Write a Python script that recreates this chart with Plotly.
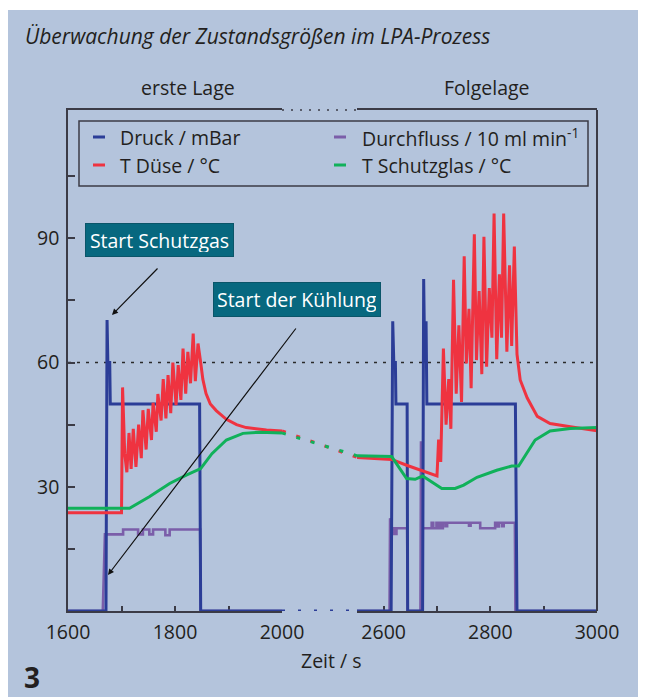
import plotly.graph_objects as go

# ---------------- data ----------------
# Druck / mBar
druck_t = [1600, 1671, 1673, 1674.5, 1678, 1679, 1846, 1848, 2000,
           2550, 2614, 2617, 2619, 2622, 2623, 2644, 2645, 2673, 2675, 2677, 2679.5, 2681, 2847, 2850, 3000]
druck_v = [0, 0, 70.3, 60, 60, 50, 50, 0, 0,
           0, 0, 70, 60, 60, 50, 50, 0, 0, 80.2, 60, 70, 50, 50, 0, 0]

# Durchfluss / 10 ml min-1
flow_t = [1600, 1665, 1669, 1703, 1703, 1731, 1731, 1740, 1740, 1752, 1752, 1759, 1759, 1782, 1782, 1790, 1790, 1847, 1848, 2000,
          2550, 2611, 2612, 2614, 2620, 2620, 2624, 2624, 2644, 2645, 2669, 2670, 2672, 2690, 2690, 2693, 2693, 2699, 2699,
          2702, 2702, 2705, 2705, 2708, 2708, 2711, 2711, 2716, 2716, 2719, 2719, 2760, 2760, 2763, 2763, 2781, 2781,
          2809, 2809, 2813, 2813, 2816, 2816, 2822, 2822, 2825, 2825, 2846, 2847, 3000]
flow_v = [0, 0, 18.5, 18.5, 19.7, 19.7, 18.5, 18.5, 19.7, 19.7, 18.5, 18.5, 19.7, 19.7, 18.3, 18.3, 19.7, 19.7, 0, 0,
          0, 0, 22.4, 20, 20, 18.6, 18.6, 20, 20, 0, 0, 41, 20, 20, 21.3, 21.3, 20, 20, 21.3,
          21.3, 20, 20, 21.3, 21.3, 20, 20, 21.3, 21.3, 20.5, 20.5, 21.3, 21.3, 20.6, 20.6, 21.3, 21.3, 20,
          20, 21.3, 21.3, 20.4, 20.4, 21.3, 21.3, 20.5, 20.5, 21.3, 21.3, 0, 0]

# T Duese / degC
duese_t = [1600, 1700, 1702, 1706, 1710, 1714, 1718, 1722, 1727, 1732, 1737, 1740, 1746, 1750, 1756, 1759, 1765, 1768,
           1774, 1778, 1783, 1787, 1792, 1796, 1802, 1806, 1811, 1815, 1820, 1824, 1829, 1834, 1838, 1843, 1848, 1852,
           1858, 1866, 1877, 1896, 1915, 1933, 1971, 2000,
           2550, 2615, 2643, 2700, 2703, 2707, 2712, 2717, 2722, 2726, 2731, 2736, 2741, 2746, 2751, 2755, 2760, 2764,
           2770, 2774, 2779, 2784, 2788, 2793, 2798, 2803, 2807, 2812, 2817, 2821, 2825, 2831, 2836, 2840, 2845, 2850,
           2856, 2869, 2888, 2912, 2950, 3000]
duese_v = [23.7, 23.7, 54, 38, 33.5, 43, 34.3, 44, 34.8, 45, 36.9, 48.5, 39, 48.8, 41.3, 50.3, 43.3, 52.4,
           46, 56, 46.5, 57, 47.8, 60, 49.7, 59.4, 51, 63.4, 52.5, 62.6, 55, 67, 55.5, 64.6, 60, 56,
           52.5, 50, 48.4, 46.3, 45, 44.3, 43.7, 43.5,
           37.1, 36.6, 35.2, 32.6, 41.4, 36, 63.4, 45, 56, 44, 80, 52.5, 69, 50.5, 85.7, 59.8, 73, 53.8,
           91, 60.6, 77.3, 57.2, 90.4, 59, 78, 66, 96, 60.8, 81.3, 66, 96, 62.6, 83.5, 64, 88, 62,
           55.8, 51.5, 47, 45.3, 44.5, 43.5]

# T Schutzglas / degC
glas_t = [1600, 1715, 1752, 1790, 1821, 1848, 1869, 1896, 1927, 1958, 2000,
          2550, 2615, 2643, 2659, 2673, 2709, 2734, 2750, 2775, 2812, 2840, 2853, 2884, 2912, 2950, 3000]
glas_v = [24.8, 24.8, 27.6, 30.8, 32.8, 34.4, 38, 41.3, 42.9, 43.2, 43.0,
          37.5, 37.3, 32, 31.8, 32.6, 29.6, 29.6, 30.4, 32.3, 34, 35, 35, 41.3, 43.5, 44.1, 44.3]

left_range = [1600, 2000]
right_range = [2550, 3000]
left_ticks = [1600, 1800, 2000]
left_minor = [1700, 1900]
right_ticks = [2600, 2800, 3000]
right_minor = [2700, 2900]
y_ticks = [30, 60, 90]
y_minor = [15, 45, 75, 105]
y_range = [0, 121]
ref_level = 60

legend_labels = ["Druck / mBar", "T Düse / °C", "Durchfluss / 10 ml min<sup>-1</sup>", "T Schutzglas / °C"]

# ---------------- styles ----------------
BG = "#b4c4dc"
C_DRUCK = "#2b3d97"
C_DUESE = "#ef3340"
C_FLOW = "#7b5ea9"
C_GLAS = "#10b15a"
INK = "#231f20"
FRAME = "#3b3b46"
BOX = "#07687f"
FONT = "Open Sans"
FS = 19.5

# page body has an 8px margin: figure sits at (8, 8) in the window
OX, OY = 8, 8
WIN_W, WIN_H = 646, 697
W, H = WIN_W - OX, WIN_H - OY
# plot area in window pixels
PL, PR, PT, PB = 68, 597, 110, 611


def fx(x):
    return (x - PL) / (PR - PL)


def fy(y):
    return (PB - y) / (PB - PT)


d_left = [0, fx(282)]
d_gap = [fx(282), fx(357)]
d_right = [fx(357), 1]


def split(t, v):
    L = [(a, b) for a, b in zip(t, v) if a <= left_range[1]]
    R = [(a, b) for a, b in zip(t, v) if a >= right_range[0]]
    return L, R


fig = go.Figure()

series = [
    ("Durchfluss", flow_t, flow_v, C_FLOW, 2.6, None),
    ("Druck", druck_t, druck_v, C_DRUCK, 3, "3px,13px"),
    ("T Düse", duese_t, duese_v, C_DUESE, 3, "4px,11px"),
    ("T Schutzglas", glas_t, glas_v, C_GLAS, 3, "4px,11px"),
]
for name, t, v, col, lw, gapdash in series:
    assert len(t) == len(v), name
    L, R = split(t, v)
    fig.add_trace(go.Scatter(x=[p[0] for p in L], y=[p[1] for p in L], mode="lines", name=name,
                             line=dict(color=col, width=lw), xaxis="x", yaxis="y", showlegend=False))
    fig.add_trace(go.Scatter(x=[p[0] for p in R], y=[p[1] for p in R], mode="lines", name=name,
                             line=dict(color=col, width=lw), xaxis="x2", yaxis="y", showlegend=False))
    if gapdash:
        fig.add_trace(go.Scatter(x=[L[-1][0], R[0][0]], y=[L[-1][1], R[0][1]], mode="lines", name=name,
                                 line=dict(color=col, width=lw, dash=gapdash), xaxis="x3", yaxis="y",
                                 showlegend=False))

axis_common = dict(showline=True, linecolor=FRAME, linewidth=1.5, mirror=True, ticks="inside", ticklen=5,
                   tickwidth=1.5, tickcolor=FRAME, showgrid=False, zeroline=False, anchor="y",
                   tickfont=dict(family=FONT, size=FS, color=INK), layer="below traces",
                   ticklabelstandoff=3)

shapes = [
    dict(type="rect", xref="paper", yref="paper", x0=fx(OX), x1=fx(WIN_W), y0=fy(WIN_H), y1=fy(10),
         fillcolor=BG, line=dict(width=0), layer="below"),
    dict(type="line", xref="paper", yref="y", x0=0, x1=1, y0=ref_level, y1=ref_level,
         line=dict(color="#2a2a2a", width=1.5, dash="3px,6px"), layer="below"),
    dict(type="line", xref="paper", yref="paper", x0=1, x1=1, y0=0, y1=1,
         line=dict(color=FRAME, width=2)),
    dict(type="line", xref="paper", yref="paper", x0=d_gap[0], x1=d_gap[1], y0=1, y1=1,
         line=dict(color=FRAME, width=1.5, dash="2px,7px")),
    dict(type="rect", xref="paper", yref="paper", x0=fx(79), x1=fx(588), y0=fy(186), y1=fy(121),
         line=dict(color=FRAME, width=1.5)),
]

annotations = []
leg_items = [
    (legend_labels[0], C_DRUCK, 93, 118, 137),
    (legend_labels[1], C_DUESE, 93, 118, 165),
    (legend_labels[2], C_FLOW, 334, 360, 137),
    (legend_labels[3], C_GLAS, 334, 360, 165),
]
for lab, col, lx, tx, ry in leg_items:
    shapes.append(dict(type="line", xref="paper", yref="paper", x0=fx(lx), x1=fx(lx + 12), y0=fy(ry), y1=fy(ry),
                       line=dict(color=col, width=3)))
    annotations.append(dict(text=lab, xref="paper", yref="paper", x=fx(tx), y=fy(ry), xanchor="left",
                            yanchor="middle", showarrow=False, font=dict(family=FONT, size=FS, color=INK)))

annotations += [
    dict(text="<i>Überwachung der Zustandsgrößen im LPA-Prozess</i>", xref="paper", yref="paper",
         x=fx(23), y=fy(36), xanchor="left", yanchor="middle", showarrow=False,
         font=dict(family=FONT, size=21, color=INK)),
    dict(text="erste Lage", xref="paper", yref="paper", x=fx(188), y=fy(88), xanchor="center",
         yanchor="middle", showarrow=False, font=dict(family=FONT, size=FS, color=INK)),
    dict(text="Folgelage", xref="paper", yref="paper", x=fx(487), y=fy(88), xanchor="center",
         yanchor="middle", showarrow=False, font=dict(family=FONT, size=FS, color=INK)),
    dict(text="Zeit / s", xref="paper", yref="paper", x=fx(331), y=fy(660), xanchor="center",
         yanchor="middle", showarrow=False, font=dict(family=FONT, size=FS, color=INK)),
    dict(text="<b>3</b>", xref="paper", yref="paper", x=fx(22), y=fy(677), xanchor="left",
         yanchor="middle", showarrow=False, font=dict(family=FONT, size=28, color=INK)),
    dict(text="Start Schutzgas", xref="paper", yref="paper", x=fx(159.5), y=fy(240), xanchor="center",
         yanchor="middle", showarrow=False, font=dict(family=FONT, size=FS, color="white"),
         bgcolor=BOX, bordercolor="#0a5569", borderwidth=1, borderpad=4, width=139, height=24),
    dict(text="Start der Kühlung", xref="paper", yref="paper", x=fx(297), y=fy(299.5), xanchor="center",
         yanchor="middle", showarrow=False, font=dict(family=FONT, size=FS, color="white"),
         bgcolor=BOX, bordercolor="#0a5569", borderwidth=1, borderpad=4, width=158, height=25),
    dict(text="", xref="paper", yref="paper", x=fx(112), y=fy(315), ax=47, ay=-48, showarrow=True,
         arrowhead=2, arrowsize=1, arrowwidth=1.2, arrowcolor="#111111", standoff=0),
    dict(text="", xref="paper", yref="paper", x=fx(108), y=fy(575), ax=189, ay=-248, showarrow=True,
         arrowhead=2, arrowsize=1, arrowwidth=1.2, arrowcolor="#111111", standoff=0),
]

fig.update_layout(
    width=W, height=H,
    margin=dict(l=PL - OX, r=(WIN_W - OX) - (PR - OX), t=PT - OY, b=(OY + H) - PB, pad=0),
    paper_bgcolor="white", plot_bgcolor="rgba(0,0,0,0)",
    showlegend=False,
    font=dict(family=FONT, color=INK),
    xaxis=dict(domain=d_left, range=left_range, tickvals=left_ticks,
               minor=dict(tickvals=left_minor, ticks="inside", ticklen=5, tickwidth=1.5, tickcolor=FRAME),
               **axis_common),
    xaxis2=dict(domain=d_right, range=right_range, tickvals=right_ticks,
                minor=dict(tickvals=right_minor, ticks="inside", ticklen=5, tickwidth=1.5, tickcolor=FRAME),
                **axis_common),
    xaxis3=dict(domain=d_gap, range=[left_range[1], right_range[0]], visible=False, anchor="y"),
    yaxis=dict(domain=[0, 1], range=y_range, tickvals=y_ticks, showline=True, linecolor=FRAME, linewidth=1.5,
               ticks="inside", ticklen=7, tickwidth=1.5, tickcolor=FRAME, showgrid=False, zeroline=False,
               minor=dict(tickvals=y_minor, ticks="inside", ticklen=7, tickwidth=1.5, tickcolor=FRAME),
               tickfont=dict(family=FONT, size=FS, color=INK), anchor="x", layer="below traces",
               ticklabelstandoff=3),
    shapes=shapes,
    annotations=annotations,
)

fig.write_html("out.html")
